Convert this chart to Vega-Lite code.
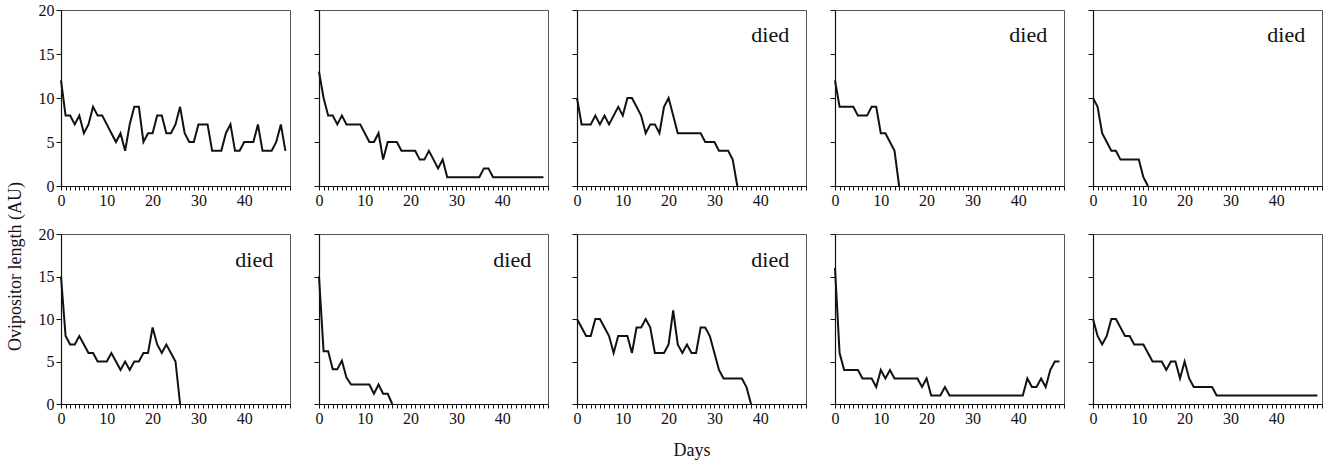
{
  "$schema": "https://vega.github.io/schema/vega-lite/v6.json",
  "background": "white",
  "padding": {"left": 5, "top": 1, "right": 5, "bottom": 5},
  "datasets": {
    "all": [
      {"p":1,"d":0,"v":12},{"p":1,"d":1,"v":8},{"p":1,"d":2,"v":8},{"p":1,"d":3,"v":7},{"p":1,"d":4,"v":8},{"p":1,"d":5,"v":6},{"p":1,"d":6,"v":7},{"p":1,"d":7,"v":9},{"p":1,"d":8,"v":8},{"p":1,"d":9,"v":8},
      {"p":1,"d":10,"v":7},{"p":1,"d":11,"v":6},{"p":1,"d":12,"v":5},{"p":1,"d":13,"v":6},{"p":1,"d":14,"v":4},{"p":1,"d":15,"v":7},{"p":1,"d":16,"v":9},{"p":1,"d":17,"v":9},{"p":1,"d":18,"v":5},{"p":1,"d":19,"v":6},
      {"p":1,"d":20,"v":6},{"p":1,"d":21,"v":8},{"p":1,"d":22,"v":8},{"p":1,"d":23,"v":6},{"p":1,"d":24,"v":6},{"p":1,"d":25,"v":7},{"p":1,"d":26,"v":9},{"p":1,"d":27,"v":6},{"p":1,"d":28,"v":5},{"p":1,"d":29,"v":5},
      {"p":1,"d":30,"v":7},{"p":1,"d":31,"v":7},{"p":1,"d":32,"v":7},{"p":1,"d":33,"v":4},{"p":1,"d":34,"v":4},{"p":1,"d":35,"v":4},{"p":1,"d":36,"v":6},{"p":1,"d":37,"v":7},{"p":1,"d":38,"v":4},{"p":1,"d":39,"v":4},
      {"p":1,"d":40,"v":5},{"p":1,"d":41,"v":5},{"p":1,"d":42,"v":5},{"p":1,"d":43,"v":7},{"p":1,"d":44,"v":4},{"p":1,"d":45,"v":4},{"p":1,"d":46,"v":4},{"p":1,"d":47,"v":5},{"p":1,"d":48,"v":7},{"p":1,"d":49,"v":4},

      {"p":2,"d":0,"v":13},{"p":2,"d":1,"v":10},{"p":2,"d":2,"v":8},{"p":2,"d":3,"v":8},{"p":2,"d":4,"v":7},{"p":2,"d":5,"v":8},{"p":2,"d":6,"v":7},{"p":2,"d":7,"v":7},{"p":2,"d":8,"v":7},{"p":2,"d":9,"v":7},
      {"p":2,"d":10,"v":6},{"p":2,"d":11,"v":5},{"p":2,"d":12,"v":5},{"p":2,"d":13,"v":6},{"p":2,"d":14,"v":3},{"p":2,"d":15,"v":5},{"p":2,"d":16,"v":5},{"p":2,"d":17,"v":5},{"p":2,"d":18,"v":4},{"p":2,"d":19,"v":4},
      {"p":2,"d":20,"v":4},{"p":2,"d":21,"v":4},{"p":2,"d":22,"v":3},{"p":2,"d":23,"v":3},{"p":2,"d":24,"v":4},{"p":2,"d":25,"v":3},{"p":2,"d":26,"v":2},{"p":2,"d":27,"v":3},{"p":2,"d":28,"v":1},{"p":2,"d":29,"v":1},
      {"p":2,"d":30,"v":1},{"p":2,"d":31,"v":1},{"p":2,"d":32,"v":1},{"p":2,"d":33,"v":1},{"p":2,"d":34,"v":1},{"p":2,"d":35,"v":1},{"p":2,"d":36,"v":2},{"p":2,"d":37,"v":2},{"p":2,"d":38,"v":1},{"p":2,"d":39,"v":1},
      {"p":2,"d":40,"v":1},{"p":2,"d":41,"v":1},{"p":2,"d":42,"v":1},{"p":2,"d":43,"v":1},{"p":2,"d":44,"v":1},{"p":2,"d":45,"v":1},{"p":2,"d":46,"v":1},{"p":2,"d":47,"v":1},{"p":2,"d":48,"v":1},{"p":2,"d":49,"v":1},

      {"p":3,"d":0,"v":10},{"p":3,"d":1,"v":7},{"p":3,"d":2,"v":7},{"p":3,"d":3,"v":7},{"p":3,"d":4,"v":8},{"p":3,"d":5,"v":7},{"p":3,"d":6,"v":8},{"p":3,"d":7,"v":7},{"p":3,"d":8,"v":8},{"p":3,"d":9,"v":9},
      {"p":3,"d":10,"v":8},{"p":3,"d":11,"v":10},{"p":3,"d":12,"v":10},{"p":3,"d":13,"v":9},{"p":3,"d":14,"v":8},{"p":3,"d":15,"v":6},{"p":3,"d":16,"v":7},{"p":3,"d":17,"v":7},{"p":3,"d":18,"v":6},{"p":3,"d":19,"v":9},
      {"p":3,"d":20,"v":10},{"p":3,"d":21,"v":8},{"p":3,"d":22,"v":6},{"p":3,"d":23,"v":6},{"p":3,"d":24,"v":6},{"p":3,"d":25,"v":6},{"p":3,"d":26,"v":6},{"p":3,"d":27,"v":6},{"p":3,"d":28,"v":5},{"p":3,"d":29,"v":5},
      {"p":3,"d":30,"v":5},{"p":3,"d":31,"v":4},{"p":3,"d":32,"v":4},{"p":3,"d":33,"v":4},{"p":3,"d":34,"v":3},{"p":3,"d":35,"v":0},

      {"p":4,"d":0,"v":12},{"p":4,"d":1,"v":9},{"p":4,"d":2,"v":9},{"p":4,"d":3,"v":9},{"p":4,"d":4,"v":9},{"p":4,"d":5,"v":8},{"p":4,"d":6,"v":8},{"p":4,"d":7,"v":8},{"p":4,"d":8,"v":9},{"p":4,"d":9,"v":9},
      {"p":4,"d":10,"v":6},{"p":4,"d":11,"v":6},{"p":4,"d":12,"v":5},{"p":4,"d":13,"v":4},{"p":4,"d":14,"v":0},

      {"p":5,"d":0,"v":10},{"p":5,"d":1,"v":9},{"p":5,"d":2,"v":6},{"p":5,"d":3,"v":5},{"p":5,"d":4,"v":4},{"p":5,"d":5,"v":4},{"p":5,"d":6,"v":3},{"p":5,"d":7,"v":3},{"p":5,"d":8,"v":3},{"p":5,"d":9,"v":3},
      {"p":5,"d":10,"v":3},{"p":5,"d":11,"v":1},{"p":5,"d":12,"v":0},

      {"p":6,"d":0,"v":15},{"p":6,"d":1,"v":8},{"p":6,"d":2,"v":7},{"p":6,"d":3,"v":7},{"p":6,"d":4,"v":8},{"p":6,"d":5,"v":7},{"p":6,"d":6,"v":6},{"p":6,"d":7,"v":6},{"p":6,"d":8,"v":5},{"p":6,"d":9,"v":5},
      {"p":6,"d":10,"v":5},{"p":6,"d":11,"v":6},{"p":6,"d":12,"v":5},{"p":6,"d":13,"v":4},{"p":6,"d":14,"v":5},{"p":6,"d":15,"v":4},{"p":6,"d":16,"v":5},{"p":6,"d":17,"v":5},{"p":6,"d":18,"v":6},{"p":6,"d":19,"v":6},
      {"p":6,"d":20,"v":9},{"p":6,"d":21,"v":7},{"p":6,"d":22,"v":6},{"p":6,"d":23,"v":7},{"p":6,"d":24,"v":6},{"p":6,"d":25,"v":5},{"p":6,"d":26,"v":0},

      {"p":7,"d":0,"v":15},{"p":7,"d":1,"v":6.2},{"p":7,"d":2,"v":6.2},{"p":7,"d":3,"v":4.1},{"p":7,"d":4,"v":4.1},{"p":7,"d":5,"v":5.1},{"p":7,"d":6,"v":3.1},{"p":7,"d":7,"v":2.3},{"p":7,"d":8,"v":2.3},{"p":7,"d":9,"v":2.3},
      {"p":7,"d":10,"v":2.3},{"p":7,"d":11,"v":2.3},{"p":7,"d":12,"v":1.2},{"p":7,"d":13,"v":2.3},{"p":7,"d":14,"v":1.2},{"p":7,"d":15,"v":1.2},{"p":7,"d":16,"v":0},

      {"p":8,"d":0,"v":10},{"p":8,"d":1,"v":9},{"p":8,"d":2,"v":8},{"p":8,"d":3,"v":8},{"p":8,"d":4,"v":10},{"p":8,"d":5,"v":10},{"p":8,"d":6,"v":9},{"p":8,"d":7,"v":8},{"p":8,"d":8,"v":6},{"p":8,"d":9,"v":8},
      {"p":8,"d":10,"v":8},{"p":8,"d":11,"v":8},{"p":8,"d":12,"v":6},{"p":8,"d":13,"v":9},{"p":8,"d":14,"v":9},{"p":8,"d":15,"v":10},{"p":8,"d":16,"v":9},{"p":8,"d":17,"v":6},{"p":8,"d":18,"v":6},{"p":8,"d":19,"v":6},
      {"p":8,"d":20,"v":7},{"p":8,"d":21,"v":11},{"p":8,"d":22,"v":7},{"p":8,"d":23,"v":6},{"p":8,"d":24,"v":7},{"p":8,"d":25,"v":6},{"p":8,"d":26,"v":6},{"p":8,"d":27,"v":9},{"p":8,"d":28,"v":9},{"p":8,"d":29,"v":8},
      {"p":8,"d":30,"v":6},{"p":8,"d":31,"v":4},{"p":8,"d":32,"v":3},{"p":8,"d":33,"v":3},{"p":8,"d":34,"v":3},{"p":8,"d":35,"v":3},{"p":8,"d":36,"v":3},{"p":8,"d":37,"v":2},{"p":8,"d":38,"v":0},

      {"p":9,"d":0,"v":16},{"p":9,"d":1,"v":6},{"p":9,"d":2,"v":4},{"p":9,"d":3,"v":4},{"p":9,"d":4,"v":4},{"p":9,"d":5,"v":4},{"p":9,"d":6,"v":3},{"p":9,"d":7,"v":3},{"p":9,"d":8,"v":3},{"p":9,"d":9,"v":2},
      {"p":9,"d":10,"v":4},{"p":9,"d":11,"v":3},{"p":9,"d":12,"v":4},{"p":9,"d":13,"v":3},{"p":9,"d":14,"v":3},{"p":9,"d":15,"v":3},{"p":9,"d":16,"v":3},{"p":9,"d":17,"v":3},{"p":9,"d":18,"v":3},{"p":9,"d":19,"v":2},
      {"p":9,"d":20,"v":3},{"p":9,"d":21,"v":1},{"p":9,"d":22,"v":1},{"p":9,"d":23,"v":1},{"p":9,"d":24,"v":2},{"p":9,"d":25,"v":1},{"p":9,"d":26,"v":1},{"p":9,"d":27,"v":1},{"p":9,"d":28,"v":1},{"p":9,"d":29,"v":1},
      {"p":9,"d":30,"v":1},{"p":9,"d":31,"v":1},{"p":9,"d":32,"v":1},{"p":9,"d":33,"v":1},{"p":9,"d":34,"v":1},{"p":9,"d":35,"v":1},{"p":9,"d":36,"v":1},{"p":9,"d":37,"v":1},{"p":9,"d":38,"v":1},{"p":9,"d":39,"v":1},
      {"p":9,"d":40,"v":1},{"p":9,"d":41,"v":1},{"p":9,"d":42,"v":3},{"p":9,"d":43,"v":2},{"p":9,"d":44,"v":2},{"p":9,"d":45,"v":3},{"p":9,"d":46,"v":2},{"p":9,"d":47,"v":4},{"p":9,"d":48,"v":5},{"p":9,"d":49,"v":5},

      {"p":10,"d":0,"v":10},{"p":10,"d":1,"v":8},{"p":10,"d":2,"v":7},{"p":10,"d":3,"v":8},{"p":10,"d":4,"v":10},{"p":10,"d":5,"v":10},{"p":10,"d":6,"v":9},{"p":10,"d":7,"v":8},{"p":10,"d":8,"v":8},{"p":10,"d":9,"v":7},
      {"p":10,"d":10,"v":7},{"p":10,"d":11,"v":7},{"p":10,"d":12,"v":6},{"p":10,"d":13,"v":5},{"p":10,"d":14,"v":5},{"p":10,"d":15,"v":5},{"p":10,"d":16,"v":4},{"p":10,"d":17,"v":5},{"p":10,"d":18,"v":5},{"p":10,"d":19,"v":3},
      {"p":10,"d":20,"v":5},{"p":10,"d":21,"v":3},{"p":10,"d":22,"v":2},{"p":10,"d":23,"v":2},{"p":10,"d":24,"v":2},{"p":10,"d":25,"v":2},{"p":10,"d":26,"v":2},{"p":10,"d":27,"v":1},{"p":10,"d":28,"v":1},{"p":10,"d":29,"v":1},
      {"p":10,"d":30,"v":1},{"p":10,"d":31,"v":1},{"p":10,"d":32,"v":1},{"p":10,"d":33,"v":1},{"p":10,"d":34,"v":1},{"p":10,"d":35,"v":1},{"p":10,"d":36,"v":1},{"p":10,"d":37,"v":1},{"p":10,"d":38,"v":1},{"p":10,"d":39,"v":1},
      {"p":10,"d":40,"v":1},{"p":10,"d":41,"v":1},{"p":10,"d":42,"v":1},{"p":10,"d":43,"v":1},{"p":10,"d":44,"v":1},{"p":10,"d":45,"v":1},{"p":10,"d":46,"v":1},{"p":10,"d":47,"v":1},{"p":10,"d":48,"v":1},{"p":10,"d":49,"v":1}
    ],
    "note": [{"t": "died"}]
  },
  "bounds": "flush",
  "columns": 5,
  "spacing": {"row": 48, "column": 29},
  "concat": [
    {"width": 229, "height": 176, "layer": [
      {"data": {"name": "all"}, "transform": [{"filter": "datum.p == 1"}], "mark": {"type": "line", "color": "#111", "strokeWidth": 2},
       "encoding": {
         "x": {"field": "d", "type": "quantitative", "scale": {"domain": [0, 50], "nice": false}, "axis": {"title": null, "values": [0,1,2,3,4,5,6,7,8,9,10,11,12,13,14,15,16,17,18,19,20,21,22,23,24,25,26,27,28,29,30,31,32,33,34,35,36,37,38,39,40,41,42,43,44,45,46,47,48,49,50], "labelExpr": "datum.value % 10 === 0 && datum.value < 50 ? datum.label : ''"}},
         "y": {"field": "v", "type": "quantitative", "scale": {"domain": [0, 20], "nice": false}, "axis": {"title": null, "values": [0,5,10,15,20]}}
       }}
    ]},
    {"width": 229, "height": 176, "layer": [
      {"data": {"name": "all"}, "transform": [{"filter": "datum.p == 2"}], "mark": {"type": "line", "color": "#111", "strokeWidth": 2},
       "encoding": {
         "x": {"field": "d", "type": "quantitative", "scale": {"domain": [0, 50], "nice": false}, "axis": {"title": null, "values": [0,1,2,3,4,5,6,7,8,9,10,11,12,13,14,15,16,17,18,19,20,21,22,23,24,25,26,27,28,29,30,31,32,33,34,35,36,37,38,39,40,41,42,43,44,45,46,47,48,49,50], "labelExpr": "datum.value % 10 === 0 && datum.value < 50 ? datum.label : ''"}},
         "y": {"field": "v", "type": "quantitative", "scale": {"domain": [0, 20], "nice": false}, "axis": {"title": null, "values": [0,5,10,15,20], "labels": false}}
       }}
    ]},
    {"width": 229, "height": 176, "layer": [
      {"data": {"name": "all"}, "transform": [{"filter": "datum.p == 3"}], "mark": {"type": "line", "color": "#111", "strokeWidth": 2},
       "encoding": {
         "x": {"field": "d", "type": "quantitative", "scale": {"domain": [0, 50], "nice": false}, "axis": {"title": null, "values": [0,1,2,3,4,5,6,7,8,9,10,11,12,13,14,15,16,17,18,19,20,21,22,23,24,25,26,27,28,29,30,31,32,33,34,35,36,37,38,39,40,41,42,43,44,45,46,47,48,49,50], "labelExpr": "datum.value % 10 === 0 && datum.value < 50 ? datum.label : ''"}},
         "y": {"field": "v", "type": "quantitative", "scale": {"domain": [0, 20], "nice": false}, "axis": {"title": null, "values": [0,5,10,15,20], "labels": false}}
       }},
      {"data": {"name": "note"}, "mark": {"type": "text", "font": "Liberation Serif", "fontSize": 22, "align": "center", "baseline": "middle", "color": "#111"},
       "encoding": {
         "x": {"datum": 42.2, "type": "quantitative", "axis": {"title": null, "values": [0,1,2,3,4,5,6,7,8,9,10,11,12,13,14,15,16,17,18,19,20,21,22,23,24,25,26,27,28,29,30,31,32,33,34,35,36,37,38,39,40,41,42,43,44,45,46,47,48,49,50], "labelExpr": "datum.value % 10 === 0 && datum.value < 50 ? datum.label : ''"}},
         "y": {"datum": 17.2, "type": "quantitative", "axis": {"title": null, "values": [0,5,10,15,20], "labels": false}},
         "text": {"field": "t"}}}
    ]},
    {"width": 229, "height": 176, "layer": [
      {"data": {"name": "all"}, "transform": [{"filter": "datum.p == 4"}], "mark": {"type": "line", "color": "#111", "strokeWidth": 2},
       "encoding": {
         "x": {"field": "d", "type": "quantitative", "scale": {"domain": [0, 50], "nice": false}, "axis": {"title": null, "values": [0,1,2,3,4,5,6,7,8,9,10,11,12,13,14,15,16,17,18,19,20,21,22,23,24,25,26,27,28,29,30,31,32,33,34,35,36,37,38,39,40,41,42,43,44,45,46,47,48,49,50], "labelExpr": "datum.value % 10 === 0 && datum.value < 50 ? datum.label : ''"}},
         "y": {"field": "v", "type": "quantitative", "scale": {"domain": [0, 20], "nice": false}, "axis": {"title": null, "values": [0,5,10,15,20], "labels": false}}
       }},
      {"data": {"name": "note"}, "mark": {"type": "text", "font": "Liberation Serif", "fontSize": 22, "align": "center", "baseline": "middle", "color": "#111"},
       "encoding": {
         "x": {"datum": 42.2, "type": "quantitative", "axis": {"title": null, "values": [0,1,2,3,4,5,6,7,8,9,10,11,12,13,14,15,16,17,18,19,20,21,22,23,24,25,26,27,28,29,30,31,32,33,34,35,36,37,38,39,40,41,42,43,44,45,46,47,48,49,50], "labelExpr": "datum.value % 10 === 0 && datum.value < 50 ? datum.label : ''"}},
         "y": {"datum": 17.2, "type": "quantitative", "axis": {"title": null, "values": [0,5,10,15,20], "labels": false}},
         "text": {"field": "t"}}}
    ]},
    {"width": 229, "height": 176, "layer": [
      {"data": {"name": "all"}, "transform": [{"filter": "datum.p == 5"}], "mark": {"type": "line", "color": "#111", "strokeWidth": 2},
       "encoding": {
         "x": {"field": "d", "type": "quantitative", "scale": {"domain": [0, 50], "nice": false}, "axis": {"title": null, "values": [0,1,2,3,4,5,6,7,8,9,10,11,12,13,14,15,16,17,18,19,20,21,22,23,24,25,26,27,28,29,30,31,32,33,34,35,36,37,38,39,40,41,42,43,44,45,46,47,48,49,50], "labelExpr": "datum.value % 10 === 0 && datum.value < 50 ? datum.label : ''"}},
         "y": {"field": "v", "type": "quantitative", "scale": {"domain": [0, 20], "nice": false}, "axis": {"title": null, "values": [0,5,10,15,20], "labels": false}}
       }},
      {"data": {"name": "note"}, "mark": {"type": "text", "font": "Liberation Serif", "fontSize": 22, "align": "center", "baseline": "middle", "color": "#111"},
       "encoding": {
         "x": {"datum": 42.2, "type": "quantitative", "axis": {"title": null, "values": [0,1,2,3,4,5,6,7,8,9,10,11,12,13,14,15,16,17,18,19,20,21,22,23,24,25,26,27,28,29,30,31,32,33,34,35,36,37,38,39,40,41,42,43,44,45,46,47,48,49,50], "labelExpr": "datum.value % 10 === 0 && datum.value < 50 ? datum.label : ''"}},
         "y": {"datum": 17.2, "type": "quantitative", "axis": {"title": null, "values": [0,5,10,15,20], "labels": false}},
         "text": {"field": "t"}}}
    ]},
    {"width": 229, "height": 170, "layer": [
      {"data": {"name": "all"}, "transform": [{"filter": "datum.p == 6"}], "mark": {"type": "line", "color": "#111", "strokeWidth": 2},
       "encoding": {
         "x": {"field": "d", "type": "quantitative", "scale": {"domain": [0, 50], "nice": false}, "axis": {"title": null, "values": [0,1,2,3,4,5,6,7,8,9,10,11,12,13,14,15,16,17,18,19,20,21,22,23,24,25,26,27,28,29,30,31,32,33,34,35,36,37,38,39,40,41,42,43,44,45,46,47,48,49,50], "labelExpr": "datum.value % 10 === 0 && datum.value < 50 ? datum.label : ''"}},
         "y": {"field": "v", "type": "quantitative", "scale": {"domain": [0, 20], "nice": false}, "axis": {"title": "Ovipositor length (AU)", "titleY": 32, "titlePadding": 14, "values": [0,5,10,15,20]}}
       }},
      {"data": {"name": "note"}, "mark": {"type": "text", "font": "Liberation Serif", "fontSize": 22, "align": "center", "baseline": "middle", "color": "#111"},
       "encoding": {
         "x": {"datum": 42.2, "type": "quantitative", "axis": {"title": null, "values": [0,1,2,3,4,5,6,7,8,9,10,11,12,13,14,15,16,17,18,19,20,21,22,23,24,25,26,27,28,29,30,31,32,33,34,35,36,37,38,39,40,41,42,43,44,45,46,47,48,49,50], "labelExpr": "datum.value % 10 === 0 && datum.value < 50 ? datum.label : ''"}},
         "y": {"datum": 17, "type": "quantitative", "axis": {"title": "Ovipositor length (AU)", "titleY": 32, "titlePadding": 14, "values": [0,5,10,15,20]}},
         "text": {"field": "t"}}}
    ]},
    {"width": 229, "height": 170, "layer": [
      {"data": {"name": "all"}, "transform": [{"filter": "datum.p == 7"}], "mark": {"type": "line", "color": "#111", "strokeWidth": 2},
       "encoding": {
         "x": {"field": "d", "type": "quantitative", "scale": {"domain": [0, 50], "nice": false}, "axis": {"title": null, "values": [0,1,2,3,4,5,6,7,8,9,10,11,12,13,14,15,16,17,18,19,20,21,22,23,24,25,26,27,28,29,30,31,32,33,34,35,36,37,38,39,40,41,42,43,44,45,46,47,48,49,50], "labelExpr": "datum.value % 10 === 0 && datum.value < 50 ? datum.label : ''"}},
         "y": {"field": "v", "type": "quantitative", "scale": {"domain": [0, 20], "nice": false}, "axis": {"title": null, "values": [0,5,10,15,20], "labels": false}}
       }},
      {"data": {"name": "note"}, "mark": {"type": "text", "font": "Liberation Serif", "fontSize": 22, "align": "center", "baseline": "middle", "color": "#111"},
       "encoding": {
         "x": {"datum": 42.2, "type": "quantitative", "axis": {"title": null, "values": [0,1,2,3,4,5,6,7,8,9,10,11,12,13,14,15,16,17,18,19,20,21,22,23,24,25,26,27,28,29,30,31,32,33,34,35,36,37,38,39,40,41,42,43,44,45,46,47,48,49,50], "labelExpr": "datum.value % 10 === 0 && datum.value < 50 ? datum.label : ''"}},
         "y": {"datum": 17, "type": "quantitative", "axis": {"title": null, "values": [0,5,10,15,20], "labels": false}},
         "text": {"field": "t"}}}
    ]},
    {"width": 229, "height": 170, "layer": [
      {"data": {"name": "all"}, "transform": [{"filter": "datum.p == 8"}], "mark": {"type": "line", "color": "#111", "strokeWidth": 2},
       "encoding": {
         "x": {"field": "d", "type": "quantitative", "scale": {"domain": [0, 50], "nice": false}, "axis": {"title": "Days", "titlePadding": 15, "values": [0,1,2,3,4,5,6,7,8,9,10,11,12,13,14,15,16,17,18,19,20,21,22,23,24,25,26,27,28,29,30,31,32,33,34,35,36,37,38,39,40,41,42,43,44,45,46,47,48,49,50], "labelExpr": "datum.value % 10 === 0 && datum.value < 50 ? datum.label : ''"}},
         "y": {"field": "v", "type": "quantitative", "scale": {"domain": [0, 20], "nice": false}, "axis": {"title": null, "values": [0,5,10,15,20], "labels": false}}
       }},
      {"data": {"name": "note"}, "mark": {"type": "text", "font": "Liberation Serif", "fontSize": 22, "align": "center", "baseline": "middle", "color": "#111"},
       "encoding": {
         "x": {"datum": 42.2, "type": "quantitative", "axis": {"title": "Days", "titlePadding": 15, "values": [0,1,2,3,4,5,6,7,8,9,10,11,12,13,14,15,16,17,18,19,20,21,22,23,24,25,26,27,28,29,30,31,32,33,34,35,36,37,38,39,40,41,42,43,44,45,46,47,48,49,50], "labelExpr": "datum.value % 10 === 0 && datum.value < 50 ? datum.label : ''"}},
         "y": {"datum": 17, "type": "quantitative", "axis": {"title": null, "values": [0,5,10,15,20], "labels": false}},
         "text": {"field": "t"}}}
    ]},
    {"width": 229, "height": 170, "layer": [
      {"data": {"name": "all"}, "transform": [{"filter": "datum.p == 9"}], "mark": {"type": "line", "color": "#111", "strokeWidth": 2},
       "encoding": {
         "x": {"field": "d", "type": "quantitative", "scale": {"domain": [0, 50], "nice": false}, "axis": {"title": null, "values": [0,1,2,3,4,5,6,7,8,9,10,11,12,13,14,15,16,17,18,19,20,21,22,23,24,25,26,27,28,29,30,31,32,33,34,35,36,37,38,39,40,41,42,43,44,45,46,47,48,49,50], "labelExpr": "datum.value % 10 === 0 && datum.value < 50 ? datum.label : ''"}},
         "y": {"field": "v", "type": "quantitative", "scale": {"domain": [0, 20], "nice": false}, "axis": {"title": null, "values": [0,5,10,15,20], "labels": false}}
       }}
    ]},
    {"width": 229, "height": 170, "layer": [
      {"data": {"name": "all"}, "transform": [{"filter": "datum.p == 10"}], "mark": {"type": "line", "color": "#111", "strokeWidth": 2},
       "encoding": {
         "x": {"field": "d", "type": "quantitative", "scale": {"domain": [0, 50], "nice": false}, "axis": {"title": null, "values": [0,1,2,3,4,5,6,7,8,9,10,11,12,13,14,15,16,17,18,19,20,21,22,23,24,25,26,27,28,29,30,31,32,33,34,35,36,37,38,39,40,41,42,43,44,45,46,47,48,49,50], "labelExpr": "datum.value % 10 === 0 && datum.value < 50 ? datum.label : ''"}},
         "y": {"field": "v", "type": "quantitative", "scale": {"domain": [0, 20], "nice": false}, "axis": {"title": null, "values": [0,5,10,15,20], "labels": false}}
       }}
    ]}
  ],
  "config": {
    "font": "Liberation Serif",
    "view": {"stroke": "#555", "strokeWidth": 1},
    "axis": {
      "grid": false,
      "domainColor": "#111",
      "domainWidth": 1.2,
      "tickColor": "#111",
      "tickSize": 4,
      "labelFont": "Liberation Serif",
      "labelFontSize": 16,
      "labelColor": "#111",
      "labelPadding": 2,
      "labelOverlap": false,
      "labelFlush": false,
      "titleFont": "Liberation Serif",
      "titleFontSize": 18,
      "titleFontWeight": "normal",
      "titleColor": "#111"
    },
    "axisY": {"tickSize": 5}
  }
}
